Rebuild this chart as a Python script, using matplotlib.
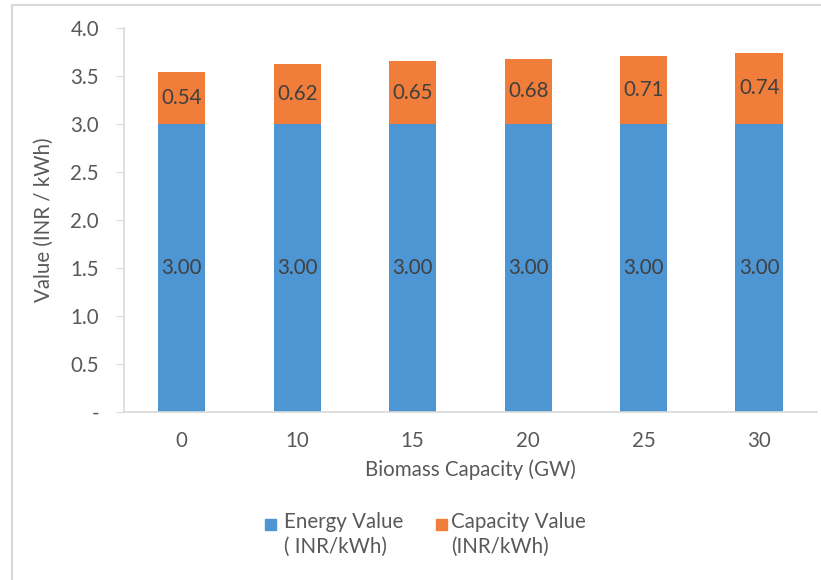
import numpy as np
import matplotlib.pyplot as plt
from matplotlib.patches import Rectangle

# biomass capacity scenarios and value components (INR/kWh)
capacity = ['0', '10', '15', '20', '25', '30']
energy_value = [3.00, 3.00, 3.00, 3.00, 3.00, 3.00]
capacity_value = [0.54, 0.62, 0.65, 0.68, 0.71, 0.74]

yticks = [0, 0.5, 1.0, 1.5, 2.0, 2.5, 3.0, 3.5, 4.0]
ytick_labels = ['-', '0.5', '1.0', '1.5', '2.0', '2.5', '3.0', '3.5', '4.0']
legend_labels = ['Energy Value\n( INR/kWh)', 'Capacity Value\n(INR/kWh)']

blue = '#4E96D3'
orange = '#F07D3A'
grey_text = '#595959'
dark_text = '#404040'
fs = 14.8

plt.rcParams['font.family'] = ['Lato', 'DejaVu Sans']

W, H = 821, 580
fig = plt.figure(figsize=(W / 100, H / 100), dpi=100)
# light frame around the chart area
fig.patches.append(Rectangle((12 / W, -0.05), 1.0, 1.05 - 5 / H, transform=fig.transFigure,
                             fill=False, edgecolor='#D9D9D9', linewidth=1.5))

ax = fig.add_axes([0.151, 0.290, 0.844, 0.662])
x = np.arange(len(capacity))
w = 0.41
ax.bar(x, energy_value, w, color=blue)
ax.bar(x, capacity_value, w, bottom=energy_value, color=orange)

for i in range(len(x)):
    ax.text(x[i], energy_value[i] / 2, '%.2f' % energy_value[i], ha='center', va='center',
            fontsize=fs, color=dark_text)
    ax.text(x[i], energy_value[i] + capacity_value[i] / 2, '%.2f' % capacity_value[i],
            ha='center', va='center', fontsize=fs, color=dark_text)

ax.set_xlim(-0.5, len(x) - 0.5)
ax.set_ylim(0, 4.0)
ax.set_yticks(yticks)
ax.set_yticklabels(ytick_labels)
ax.set_xticks(x)
ax.set_xticklabels(capacity)

for s in ['top', 'right']:
    ax.spines[s].set_visible(False)
for s in ['left', 'bottom']:
    ax.spines[s].set_color('#D9D9D9')
    ax.spines[s].set_linewidth(1.2)
ax.tick_params(axis='y', length=6, color='#D9D9D9', labelsize=fs, labelcolor=grey_text, pad=12)
ax.tick_params(axis='x', length=0, labelsize=fs, labelcolor=grey_text, pad=14)

ax.set_xlabel('Biomass Capacity (GW)', fontsize=fs, color=grey_text, labelpad=6)
ax.set_ylabel('Value (INR / kWh)', fontsize=fs, color=grey_text, labelpad=12)

# legend below the axis: square marker beside the first line of a two-line label
for sx, tx, col, lab in [(265, 284, blue, legend_labels[0]), (436, 451, orange, legend_labels[1])]:
    fig.patches.append(Rectangle((sx / W, 1 - 530 / H), 11 / W, 11 / H, transform=fig.transFigure,
                                 color=col))
    fig.text(tx / W, 1 - 512 / H, lab, ha='left', va='top', fontsize=fs, color=grey_text,
             linespacing=1.3)

fig.savefig('out.png', dpi=100)
